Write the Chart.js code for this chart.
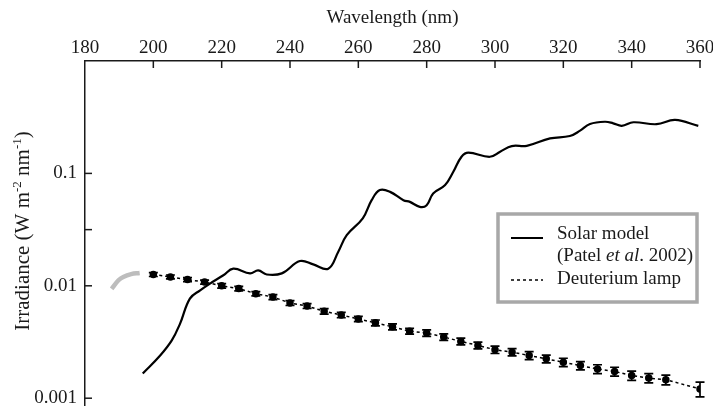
<!DOCTYPE html>
<html>
<head>
<meta charset="utf-8">
<script src="https://cdn.jsdelivr.net/npm/chart.js@4.4.0/dist/chart.umd.min.js"></script>
<style>
  html, body { margin: 0; padding: 0; background: #fff; }
  #wrap { width: 713px; height: 407px; }
</style>
</head>
<body>
<div id="wrap"><canvas id="chart"></canvas></div>
<script>
// Solar model (Patel et al. 2002)
const solarNm = [196.9, 202, 205.4, 207.8, 210.7, 213.7, 216.6, 220.5, 223.4, 228.3,
                 230.7, 233.2, 237.6, 242.9, 246.8, 251.2, 254.1, 256.6, 261.3, 263.9,
                 266.3, 269.3, 273.2, 275.1, 278, 280, 281.9, 285.4, 287.8, 290.2,
                 292.2, 298.5, 301.5, 304.9, 309.3, 316.1, 321.9, 324.9, 327.8, 332.2,
                 334.6, 337.1, 340.5, 347.3, 352.7, 359.5];
const solarIrr = [0.00166, 0.0024, 0.00327, 0.00459, 0.00769, 0.00912, 0.01047, 0.0124, 0.0142, 0.0129,
                  0.0137, 0.0126, 0.0129, 0.0166, 0.0155, 0.0142, 0.0200, 0.0282, 0.0398, 0.0578,
                  0.0710, 0.0685, 0.0578, 0.0558, 0.0504, 0.0521, 0.0664, 0.0787, 0.1033, 0.1406,
                  0.1528, 0.1406, 0.156, 0.175, 0.176, 0.205, 0.215, 0.240, 0.275, 0.288,
                  0.279, 0.265, 0.285, 0.274, 0.299, 0.265];

// short grey piece left of the lamp data
const greyNm = [187.8, 189.8, 191.2, 193.5, 196];
const greyIrr = [0.0094, 0.0112, 0.0120, 0.0127, 0.0130];

// Deuterium lamp with relative error
const lampNm = [200, 205, 210, 215, 220, 225, 230, 235, 240, 245,
                250, 255, 260, 265, 270, 275, 280, 285, 290, 295,
                300, 305, 310, 315, 320, 325, 330, 335, 340, 345,
                350, 360];
const lampIrr = [0.0126, 0.0120, 0.01135, 0.0108, 0.0100, 0.00944, 0.00851, 0.00794, 0.00703, 0.00661,
                 0.00593, 0.0055, 0.00507, 0.00468, 0.00432, 0.00395, 0.0038, 0.0035, 0.0032, 0.00295,
                 0.0027, 0.00257, 0.0024, 0.00224, 0.00209, 0.00195, 0.00182, 0.00173, 0.00159, 0.00151,
                 0.00146, 0.00121];
const lampErr = [0.04, 0.04, 0.04, 0.04, 0.045, 0.045, 0.045, 0.05, 0.05, 0.05,
                 0.055, 0.055, 0.055, 0.06, 0.06, 0.06, 0.065, 0.065, 0.07, 0.07,
                 0.075, 0.075, 0.08, 0.08, 0.085, 0.085, 0.09, 0.09, 0.095, 0.095,
                 0.1, 0.15];

const yTickValues = [0.001, 0.01, 0.0316, 0.1];
const yTickLabels = ['0.001', '0.01', '', '0.1'];

const FONT = "'Liberation Serif', 'Times New Roman', serif";
const INK = '#1a1a1a';

const toXY = (xs, ys) => xs.map((x, i) => ({ x: x, y: ys[i] }));
const noPad = s => { s.paddingTop = 0; s.paddingBottom = 0; s.paddingLeft = 0; s.paddingRight = 0; };

// inward tick marks on both axes
const innerTicks = {
    id: 'innerTicks',
    afterDraw(chart) {
        const { ctx, chartArea, scales } = chart;
        ctx.save();
        ctx.strokeStyle = INK;
        ctx.lineWidth = 1.5;
        scales.x.ticks.forEach(t => {
            const px = scales.x.getPixelForValue(t.value);
            if (px <= chartArea.left + 1) return;
            ctx.beginPath();
            ctx.moveTo(px, chartArea.top);
            ctx.lineTo(px, chartArea.top + 7);
            ctx.stroke();
        });
        scales.y.ticks.forEach(t => {
            const py = scales.y.getPixelForValue(t.value);
            ctx.beginPath();
            ctx.moveTo(chartArea.left, py);
            ctx.lineTo(chartArea.left + 7, py);
            ctx.stroke();
        });
        ctx.restore();
    }
};

// error bars for the lamp series
const errorBars = {
    id: 'errorBars',
    afterDatasetsDraw(chart) {
        const meta = chart.getDatasetMeta(2);
        const y = chart.scales.y;
        const ctx = chart.ctx;
        ctx.save();
        ctx.strokeStyle = '#000';
        ctx.lineWidth = 1.7;
        meta.data.forEach((pt, i) => {
            const v = lampIrr[i];
            const top = y.getPixelForValue(v * (1 + lampErr[i]));
            const bot = y.getPixelForValue(v * (1 - lampErr[i]));
            ctx.beginPath();
            ctx.moveTo(pt.x, top); ctx.lineTo(pt.x, bot);
            ctx.moveTo(pt.x - 4.5, top); ctx.lineTo(pt.x + 4.5, top);
            ctx.moveTo(pt.x - 4.5, bot); ctx.lineTo(pt.x + 4.5, bot);
            ctx.stroke();
        });
        ctx.restore();
    }
};

// y title with superscripts, and the boxed legend
const annotations = {
    id: 'annotations',
    afterDraw(chart) {
        const ctx = chart.ctx;
        ctx.save();
        ctx.fillStyle = INK;

        // y axis title
        const parts = [
            ['Irradiance (W m', 21, 0],
            ['-2', 13, 8],
            [' nm', 21, 0],
            ['-1', 13, 8],
            [')', 21, 0]
        ];
        let total = 0;
        parts.forEach(p => { ctx.font = p[1] + 'px ' + FONT; total += ctx.measureText(p[0]).width; });
        ctx.translate(22, 231);
        ctx.rotate(-Math.PI / 2);
        ctx.textBaseline = 'alphabetic';
        let cx = -total / 2;
        parts.forEach(p => {
            ctx.font = p[1] + 'px ' + FONT;
            ctx.fillText(p[0], cx, 7 - p[2]);
            cx += ctx.measureText(p[0]).width;
        });
        ctx.setTransform(1, 0, 0, 1, 0, 0);

        // legend box
        ctx.fillStyle = '#fff';
        ctx.fillRect(498, 214, 199, 88);
        ctx.strokeStyle = '#a8a8a8';
        ctx.lineWidth = 3.5;
        ctx.strokeRect(498, 214, 199, 88);

        ctx.strokeStyle = '#000';
        ctx.lineWidth = 2;
        ctx.beginPath(); ctx.moveTo(511, 238); ctx.lineTo(543, 238); ctx.stroke();
        ctx.lineWidth = 1.5;
        ctx.setLineDash([3, 3]);
        ctx.beginPath(); ctx.moveTo(511, 280); ctx.lineTo(543, 280); ctx.stroke();
        ctx.setLineDash([]);

        ctx.fillStyle = INK;
        ctx.textBaseline = 'middle';
        ctx.font = '19px ' + FONT;
        ctx.fillText('Solar model', 557, 234);
        ctx.fillText('Deuterium lamp', 557, 279);
        let lx = 557;
        const line2 = [['(Patel ', false], ['et al', true], ['. 2002)', false]];
        line2.forEach(s => {
            ctx.font = (s[1] ? 'italic ' : '') + '19px ' + FONT;
            ctx.fillText(s[0], lx, 256);
            lx += ctx.measureText(s[0]).width;
        });
        ctx.restore();
    }
};

new Chart(document.getElementById('chart'), {
    type: 'line',
    data: {
        datasets: [
            {
                label: 'Solar model',
                data: toXY(solarNm, solarIrr),
                borderColor: '#000',
                borderWidth: 2.2,
                pointRadius: 0,
                tension: 0.4
            },
            {
                label: 'grey',
                data: toXY(greyNm, greyIrr),
                borderColor: '#bdbdbd',
                borderWidth: 4.5,
                pointRadius: 0,
                tension: 0.4
            },
            {
                label: 'Deuterium lamp',
                data: toXY(lampNm, lampIrr),
                borderColor: '#000',
                borderWidth: 1.5,
                borderDash: [3, 3],
                pointRadius: 3,
                pointBackgroundColor: '#000',
                pointBorderColor: '#000',
                tension: 0
            }
        ]
    },
    options: {
        responsive: true,
        maintainAspectRatio: false,
        animation: false,
        layout: { autoPadding: false, padding: { top: 0, right: 13, bottom: 2, left: 0 } },
        plugins: {
            legend: { display: false },
            tooltip: { enabled: false }
        },
        scales: {
            x: {
                type: 'linear',
                position: 'top',
                min: 180,
                max: 360,
                afterFit(scale) { scale.height = 61; noPad(scale); },
                grid: { display: false, drawTicks: false },
                border: { display: true, color: INK, width: 1.5 },
                ticks: { stepSize: 20, color: INK, padding: 2, font: { family: FONT, size: 19 } },
                title: {
                    display: true,
                    text: 'Wavelength (nm)',
                    color: INK,
                    font: { family: FONT, size: 19 },
                    padding: { top: 7, bottom: 0 }
                }
            },
            y: {
                type: 'logarithmic',
                min: 0.00087,
                max: 1,
                afterFit(scale) { scale.width = 85; noPad(scale); },
                afterBuildTicks(scale) {
                    scale.ticks = yTickValues.map(v => ({ value: v }));
                },
                grid: { display: false, drawTicks: false },
                border: { display: true, color: INK, width: 1.5 },
                ticks: {
                    color: INK,
                    padding: 8,
                    font: { family: FONT, size: 19 },
                    callback(value, index) { return yTickLabels[index]; }
                }
            }
        }
    },
    plugins: [innerTicks, errorBars, annotations]
});
</script>
</body>
</html>
